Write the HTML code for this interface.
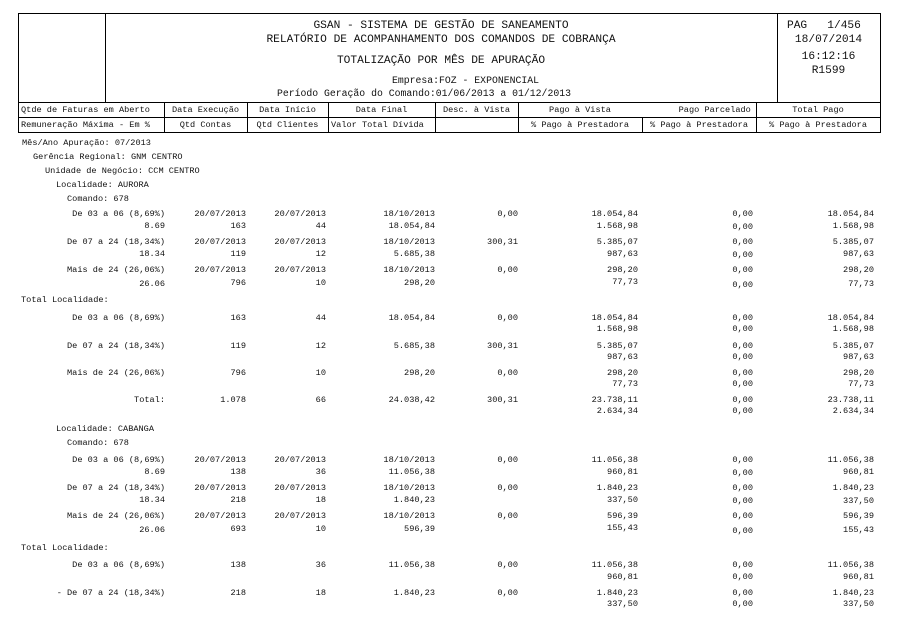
<!DOCTYPE html>
<html><head><meta charset="utf-8"><style>
body{margin:0;background:#fff;width:902px;height:634px;position:relative;overflow:hidden;font-family:"Liberation Mono",monospace;color:#111}
div{position:absolute;white-space:pre}
.t{font-size:8.6px;line-height:10px}
.ln{background:#000}
.h{font-size:11.2px;line-height:13px}
</style></head><body>
<div class="ln" style="left:18px;top:13px;width:863px;height:1px"></div>
<div class="ln" style="left:18px;top:102px;width:863px;height:1px"></div>
<div class="ln" style="left:18px;top:117px;width:863px;height:1px"></div>
<div class="ln" style="left:18px;top:132px;width:863px;height:1px"></div>
<div class="ln" style="left:18px;top:13px;width:1px;height:120px"></div>
<div class="ln" style="left:880px;top:13px;width:1px;height:120px"></div>
<div class="ln" style="left:105px;top:13px;width:1px;height:90px"></div>
<div class="ln" style="left:777px;top:13px;width:1px;height:90px"></div>
<div class="ln" style="left:164px;top:102px;width:1px;height:30px"></div>
<div class="ln" style="left:247px;top:102px;width:1px;height:30px"></div>
<div class="ln" style="left:328px;top:102px;width:1px;height:30px"></div>
<div class="ln" style="left:435px;top:102px;width:1px;height:30px"></div>
<div class="ln" style="left:518px;top:102px;width:1px;height:30px"></div>
<div class="ln" style="left:642px;top:117px;width:1px;height:15px"></div>
<div class="ln" style="left:756px;top:102px;width:1px;height:30px"></div>

<div class="h" style="left:105px;width:672px;text-align:center;top:20px">GSAN - SISTEMA DE GESTÃO DE SANEAMENTO</div>
<div class="h" style="left:105px;width:672px;text-align:center;top:34px">RELATÓRIO DE ACOMPANHAMENTO DOS COMANDOS DE COBRANÇA</div>
<div class="h" style="left:105px;width:672px;text-align:center;top:55px">TOTALIZAÇÃO POR MÊS DE APURAÇÃO</div>
<div class="h" style="left:392px;top:75px;font-size:9.8px;line-height:12px">Empresa:FOZ - EXPONENCIAL</div>
<div class="h" style="left:277px;top:88px;font-size:9.8px;line-height:12px">Período Geração do Comando:01/06/2013 a 01/12/2013</div>
<div class="h" style="left:787px;top:20px">PAG   1/456</div>
<div class="h" style="left:777px;width:103px;text-align:center;top:34px">18/07/2014</div>
<div class="h" style="left:777px;width:103px;text-align:center;top:51px">16:12:16</div>
<div class="h" style="left:777px;width:103px;text-align:center;top:65px">R1599</div>

<div class="t" style="left:21px;top:105px">Qtde de Faturas em Aberto</div>
<div class="t" style="left:164px;width:83px;text-align:center;top:105px">Data Execução</div>
<div class="t" style="left:247px;width:81px;text-align:center;top:105px">Data Início</div>
<div class="t" style="left:328px;width:107px;text-align:center;top:105px">Data Final</div>
<div class="t" style="left:435px;width:83px;text-align:center;top:105px">Desc. à Vista</div>
<div class="t" style="left:518px;width:124px;text-align:center;top:105px">Pago à Vista</div>
<div class="t" style="left:642px;width:114px;text-align:right;top:105px">Pago Parcelado </div>
<div class="t" style="left:756px;width:124px;text-align:center;top:105px">Total Pago</div>
<div class="t" style="left:21px;top:120px">Remuneração Máxima - Em %</div>
<div class="t" style="left:164px;width:83px;text-align:center;top:120px">Qtd Contas</div>
<div class="t" style="left:247px;width:81px;text-align:center;top:120px">Qtd Clientes</div>
<div class="t" style="left:331px;top:120px">Valor Total Dívida</div>
<div class="t" style="left:518px;width:124px;text-align:center;top:120px">% Pago à Prestadora</div>
<div class="t" style="left:642px;width:114px;text-align:center;top:120px">% Pago à Prestadora</div>
<div class="t" style="left:756px;width:124px;text-align:center;top:120px">% Pago à Prestadora</div>

<div class="t" style="left:22px;top:138px">Mês/Ano Apuração: 07/2013</div>
<div class="t" style="left:33px;top:152px">Gerência Regional: GNM CENTRO</div>
<div class="t" style="left:45px;top:166px">Unidade de Negócio: CCM CENTRO</div>
<div class="t" style="left:56px;top:180px">Localidade: AURORA</div>
<div class="t" style="left:67px;top:194px">Comando: 678</div>

<div class="t" style="right:737px;top:209px">De 03 a 06 (8,69%)</div>
<div class="t" style="right:656px;top:209px">20/07/2013</div>
<div class="t" style="right:576px;top:209px">20/07/2013</div>
<div class="t" style="right:467px;top:209px">18/10/2013</div>
<div class="t" style="right:384px;top:209px">0,00</div>
<div class="t" style="right:264px;top:209px">18.054,84</div>
<div class="t" style="right:149px;top:209px">0,00</div>
<div class="t" style="right:28px;top:209px">18.054,84</div>
<div class="t" style="right:737px;top:221px">8.69</div>
<div class="t" style="right:656px;top:221px">163</div>
<div class="t" style="right:576px;top:221px">44</div>
<div class="t" style="right:467px;top:221px">18.054,84</div>
<div class="t" style="right:264px;top:221px">1.568,98</div>
<div class="t" style="right:149px;top:222px">0,00</div>
<div class="t" style="right:28px;top:221px">1.568,98</div>

<div class="t" style="right:737px;top:237px">De 07 a 24 (18,34%)</div>
<div class="t" style="right:656px;top:237px">20/07/2013</div>
<div class="t" style="right:576px;top:237px">20/07/2013</div>
<div class="t" style="right:467px;top:237px">18/10/2013</div>
<div class="t" style="right:384px;top:237px">300,31</div>
<div class="t" style="right:264px;top:237px">5.385,07</div>
<div class="t" style="right:149px;top:237px">0,00</div>
<div class="t" style="right:28px;top:237px">5.385,07</div>
<div class="t" style="right:737px;top:249px">18.34</div>
<div class="t" style="right:656px;top:249px">119</div>
<div class="t" style="right:576px;top:249px">12</div>
<div class="t" style="right:467px;top:249px">5.685,38</div>
<div class="t" style="right:264px;top:249px">987,63</div>
<div class="t" style="right:149px;top:250px">0,00</div>
<div class="t" style="right:28px;top:249px">987,63</div>

<div class="t" style="right:737px;top:265px">Mais de 24 (26,06%)</div>
<div class="t" style="right:656px;top:265px">20/07/2013</div>
<div class="t" style="right:576px;top:265px">20/07/2013</div>
<div class="t" style="right:467px;top:265px">18/10/2013</div>
<div class="t" style="right:384px;top:265px">0,00</div>
<div class="t" style="right:264px;top:265px">298,20</div>
<div class="t" style="right:149px;top:265px">0,00</div>
<div class="t" style="right:28px;top:265px">298,20</div>
<div class="t" style="right:737px;top:279px">26.06</div>
<div class="t" style="right:656px;top:278px">796</div>
<div class="t" style="right:576px;top:278px">10</div>
<div class="t" style="right:467px;top:278px">298,20</div>
<div class="t" style="right:264px;top:277px">77,73</div>
<div class="t" style="right:149px;top:280px">0,00</div>
<div class="t" style="right:28px;top:279px">77,73</div>

<div class="t" style="left:21px;top:295px">Total Localidade:</div>
<div class="t" style="right:737px;top:313px">De 03 a 06 (8,69%)</div>
<div class="t" style="right:656px;top:313px">163</div>
<div class="t" style="right:576px;top:313px">44</div>
<div class="t" style="right:467px;top:313px">18.054,84</div>
<div class="t" style="right:384px;top:313px">0,00</div>
<div class="t" style="right:264px;top:313px">18.054,84</div>
<div class="t" style="right:149px;top:313px">0,00</div>
<div class="t" style="right:28px;top:313px">18.054,84</div>
<div class="t" style="right:264px;top:324px">1.568,98</div>
<div class="t" style="right:149px;top:324px">0,00</div>
<div class="t" style="right:28px;top:324px">1.568,98</div>

<div class="t" style="right:737px;top:341px">De 07 a 24 (18,34%)</div>
<div class="t" style="right:656px;top:341px">119</div>
<div class="t" style="right:576px;top:341px">12</div>
<div class="t" style="right:467px;top:341px">5.685,38</div>
<div class="t" style="right:384px;top:341px">300,31</div>
<div class="t" style="right:264px;top:341px">5.385,07</div>
<div class="t" style="right:149px;top:341px">0,00</div>
<div class="t" style="right:28px;top:341px">5.385,07</div>
<div class="t" style="right:264px;top:352px">987,63</div>
<div class="t" style="right:149px;top:352px">0,00</div>
<div class="t" style="right:28px;top:352px">987,63</div>

<div class="t" style="right:737px;top:368px">Mais de 24 (26,06%)</div>
<div class="t" style="right:656px;top:368px">796</div>
<div class="t" style="right:576px;top:368px">10</div>
<div class="t" style="right:467px;top:368px">298,20</div>
<div class="t" style="right:384px;top:368px">0,00</div>
<div class="t" style="right:264px;top:368px">298,20</div>
<div class="t" style="right:149px;top:368px">0,00</div>
<div class="t" style="right:28px;top:368px">298,20</div>
<div class="t" style="right:264px;top:379px">77,73</div>
<div class="t" style="right:149px;top:379px">0,00</div>
<div class="t" style="right:28px;top:379px">77,73</div>

<div class="t" style="right:737px;top:395px">Total:</div>
<div class="t" style="right:656px;top:395px">1.078</div>
<div class="t" style="right:576px;top:395px">66</div>
<div class="t" style="right:467px;top:395px">24.038,42</div>
<div class="t" style="right:384px;top:395px">300,31</div>
<div class="t" style="right:264px;top:395px">23.738,11</div>
<div class="t" style="right:149px;top:395px">0,00</div>
<div class="t" style="right:28px;top:395px">23.738,11</div>
<div class="t" style="right:264px;top:406px">2.634,34</div>
<div class="t" style="right:149px;top:406px">0,00</div>
<div class="t" style="right:28px;top:406px">2.634,34</div>

<div class="t" style="left:56px;top:424px">Localidade: CABANGA</div>
<div class="t" style="left:67px;top:438px">Comando: 678</div>

<div class="t" style="right:737px;top:455px">De 03 a 06 (8,69%)</div>
<div class="t" style="right:656px;top:455px">20/07/2013</div>
<div class="t" style="right:576px;top:455px">20/07/2013</div>
<div class="t" style="right:467px;top:455px">18/10/2013</div>
<div class="t" style="right:384px;top:455px">0,00</div>
<div class="t" style="right:264px;top:455px">11.056,38</div>
<div class="t" style="right:149px;top:455px">0,00</div>
<div class="t" style="right:28px;top:455px">11.056,38</div>
<div class="t" style="right:737px;top:467px">8.69</div>
<div class="t" style="right:656px;top:467px">138</div>
<div class="t" style="right:576px;top:467px">36</div>
<div class="t" style="right:467px;top:467px">11.056,38</div>
<div class="t" style="right:264px;top:467px">960,81</div>
<div class="t" style="right:149px;top:468px">0,00</div>
<div class="t" style="right:28px;top:467px">960,81</div>

<div class="t" style="right:737px;top:483px">De 07 a 24 (18,34%)</div>
<div class="t" style="right:656px;top:483px">20/07/2013</div>
<div class="t" style="right:576px;top:483px">20/07/2013</div>
<div class="t" style="right:467px;top:483px">18/10/2013</div>
<div class="t" style="right:384px;top:483px">0,00</div>
<div class="t" style="right:264px;top:483px">1.840,23</div>
<div class="t" style="right:149px;top:483px">0,00</div>
<div class="t" style="right:28px;top:483px">1.840,23</div>
<div class="t" style="right:737px;top:495px">18.34</div>
<div class="t" style="right:656px;top:495px">218</div>
<div class="t" style="right:576px;top:495px">18</div>
<div class="t" style="right:467px;top:495px">1.840,23</div>
<div class="t" style="right:264px;top:495px">337,50</div>
<div class="t" style="right:149px;top:496px">0,00</div>
<div class="t" style="right:28px;top:496px">337,50</div>

<div class="t" style="right:737px;top:511px">Mais de 24 (26,06%)</div>
<div class="t" style="right:656px;top:511px">20/07/2013</div>
<div class="t" style="right:576px;top:511px">20/07/2013</div>
<div class="t" style="right:467px;top:511px">18/10/2013</div>
<div class="t" style="right:384px;top:511px">0,00</div>
<div class="t" style="right:264px;top:511px">596,39</div>
<div class="t" style="right:149px;top:511px">0,00</div>
<div class="t" style="right:28px;top:511px">596,39</div>
<div class="t" style="right:737px;top:525px">26.06</div>
<div class="t" style="right:656px;top:524px">693</div>
<div class="t" style="right:576px;top:524px">10</div>
<div class="t" style="right:467px;top:524px">596,39</div>
<div class="t" style="right:264px;top:523px">155,43</div>
<div class="t" style="right:149px;top:526px">0,00</div>
<div class="t" style="right:28px;top:525px">155,43</div>

<div class="t" style="left:21px;top:543px">Total Localidade:</div>
<div class="t" style="right:737px;top:560px">De 03 a 06 (8,69%)</div>
<div class="t" style="right:656px;top:560px">138</div>
<div class="t" style="right:576px;top:560px">36</div>
<div class="t" style="right:467px;top:560px">11.056,38</div>
<div class="t" style="right:384px;top:560px">0,00</div>
<div class="t" style="right:264px;top:560px">11.056,38</div>
<div class="t" style="right:149px;top:560px">0,00</div>
<div class="t" style="right:28px;top:560px">11.056,38</div>
<div class="t" style="right:264px;top:572px">960,81</div>
<div class="t" style="right:149px;top:572px">0,00</div>
<div class="t" style="right:28px;top:572px">960,81</div>

<div class="t" style="right:737px;top:588px">- De 07 a 24 (18,34%)</div>
<div class="t" style="right:656px;top:588px">218</div>
<div class="t" style="right:576px;top:588px">18</div>
<div class="t" style="right:467px;top:588px">1.840,23</div>
<div class="t" style="right:384px;top:588px">0,00</div>
<div class="t" style="right:264px;top:588px">1.840,23</div>
<div class="t" style="right:149px;top:588px">0,00</div>
<div class="t" style="right:28px;top:588px">1.840,23</div>
<div class="t" style="right:264px;top:599px">337,50</div>
<div class="t" style="right:149px;top:599px">0,00</div>
<div class="t" style="right:28px;top:599px">337,50</div>
</body></html>
